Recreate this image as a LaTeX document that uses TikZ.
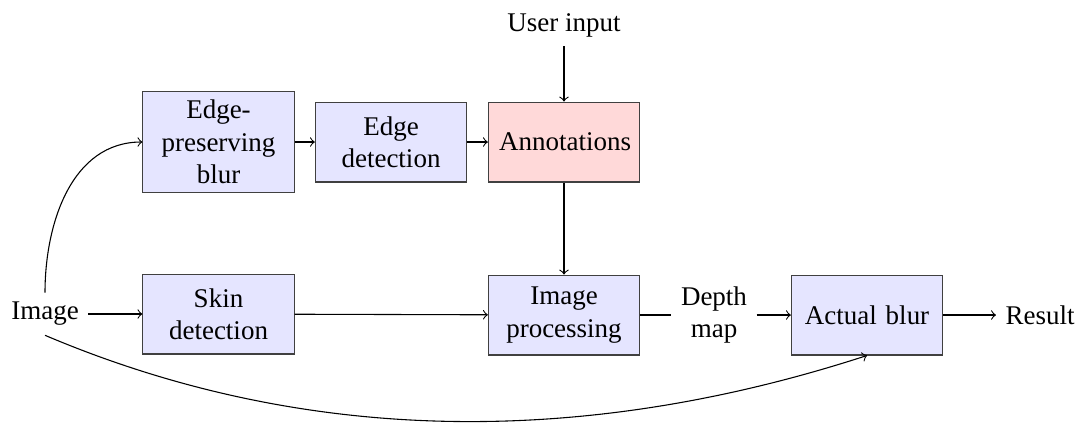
\documentclass[tikz,border=0pt]{standalone}
\usepackage{fontspec}
\setmainfont{Liberation Serif}
\begin{document}
\begin{tikzpicture}[x=0.3704pt,y=-0.3704pt,
  procbox/.style={draw=black!75, fill=blue!10, minimum width=56pt, minimum height=29.6pt, text width=48pt, align=center, inner sep=3.33pt},
  annbox/.style={procbox, fill=red!15},
  plain/.style={align=center, inner sep=3.33pt},
  conn/.style={->, black}]
\useasboundingbox (0,0) rectangle (1077,423);
\node[plain] (image) at (45,314) {Image};
\node[procbox] (epb) at (218.5,142) {Edge-preserving blur};
\node[procbox] (edet) at (391,142) {Edge detection};
\node[annbox] (ann) at (564,142) {Annotations};
\node[plain] (user) at (564,25) {User input};
\node[procbox] (skin) at (218.5,314) {Skin detection};
\node[procbox] (iproc) at (564,315) {Image processing};
\node[plain] (depth) at (714,315) {Depth\\map};
\node[procbox] (blur) at (867,315) {Actual blur};
\node[plain] (result) at (1040,315) {Result};
\draw[conn] (image) -- (skin);
\draw[conn] (skin) -- (iproc);
\draw (iproc) -- (depth);
\draw[conn] (depth) -- (blur);
\draw[conn] (blur) -- (result);
\draw[conn] (epb) -- (edet);
\draw[conn] (edet) -- (ann);
\draw[conn] (user) -- (ann);
\draw[conn] (ann) -- (iproc);
\draw[conn] (image.north) to[out=90,in=180] (epb.west);
\draw[conn] (image.south) to[out=-23,in=-162,looseness=0.9] (blur.south);
\end{tikzpicture}
\end{document}
